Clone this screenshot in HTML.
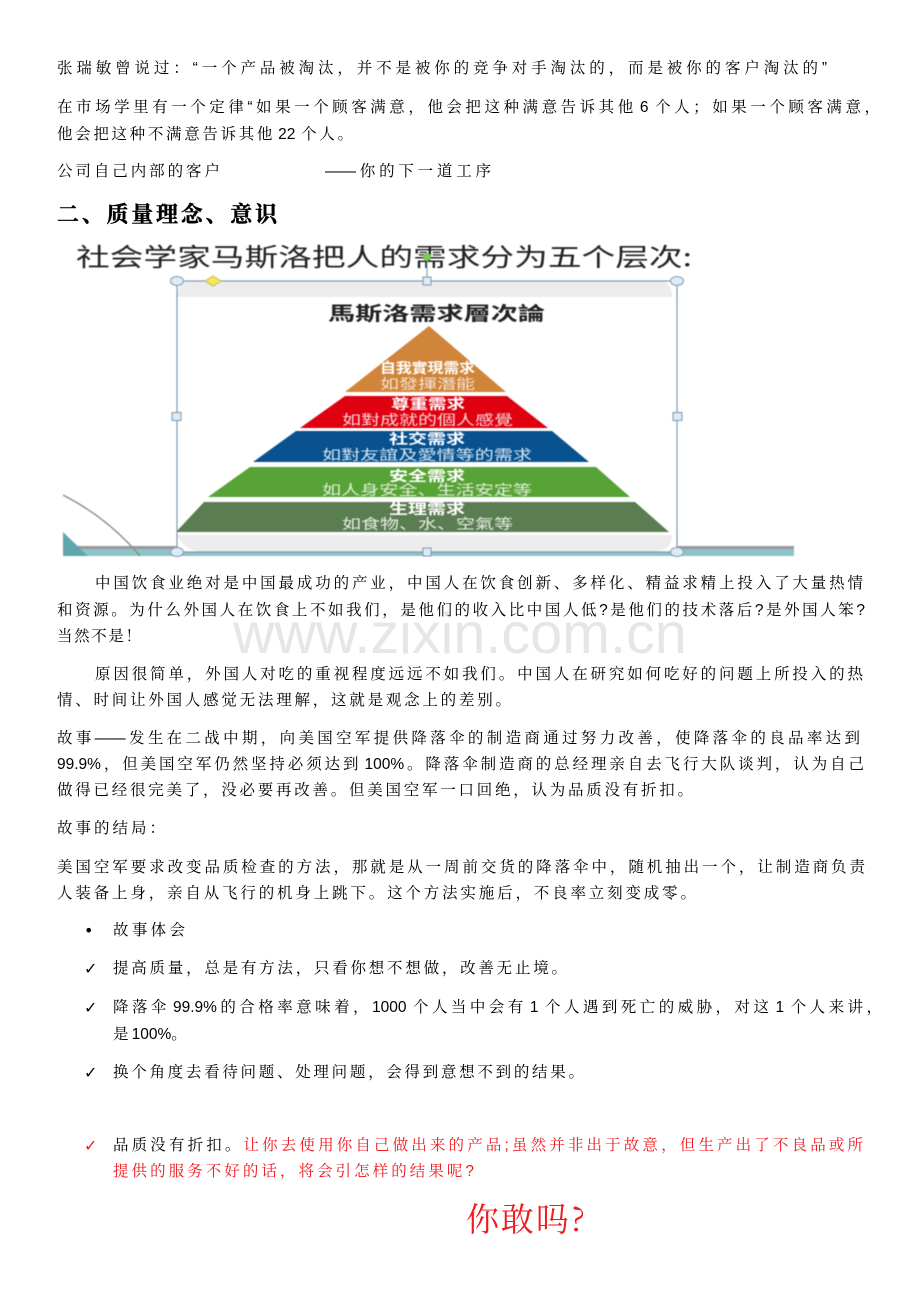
<!DOCTYPE html>
<html lang="zh"><head><meta charset="utf-8"><title>质量理念</title>
<style>
html,body{margin:0;padding:0;background:#fff}
#p{position:relative;width:920px;height:1302px;overflow:hidden;background:#fff;font-family:"Liberation Sans","Noto Serif CJK SC",serif;color:#000}
.l{position:absolute;height:20px;line-height:20px;font-size:15.5px;text-align:justify;text-align-last:justify;white-space:nowrap}
.m{position:absolute;line-height:20px;font-size:16px;font-family:"DejaVu Sans",sans-serif}
.r{color:#f01a1f}
svg{position:absolute;left:0;top:0}
</style></head><body><div id="p">
<div class="l" style="left:57px;top:59px;width:770px">张瑞敏曾说过&#xFF1A;“一个产品被淘汰&#xFF0C;并不是被你的竞争对手淘汰的&#xFF0C;而是被你的客户淘汰的”</div>
<div class="l" style="left:57px;top:98px;width:823px">在市场学里有一个定律“如果一个顾客满意&#xFF0C;他会把这种满意告诉其他&#8201;6&#8201;个人&#xFF1B;如果一个顾客满意&#xFF0C;</div>
<div class="l" style="left:57px;top:125px;width:296px">他会把这种不满意告诉其他&#8201;22&#8201;个人。</div>
<div class="l" style="left:57px;top:162px;width:163px">公司自己内部的客户</div>
<div class="l" style="left:325px;top:162px;width:166px">——你的下一道工序</div>
<div class="l" style="left:57px;top:203px;width:220px;height:24px;line-height:24px;font-size:22px;font-weight:700;-webkit-text-stroke:.4px #000">二、质量理念、意识</div>

<svg width="920" height="1302" viewBox="0 0 920 1302" xmlns="http://www.w3.org/2000/svg" style="filter:blur(.5px)">
<rect x="63" y="546" width="731" height="10" fill="#8cc4c8"/>
<rect x="63" y="546" width="731" height="3" fill="#9a9a9e"/>
<path d="M63 532L88 556H63Z" fill="#62a6ad"/>
<path d="M63 495Q108 518 140 556" fill="none" stroke="#8f8f8f" stroke-width="1.5"/>
<rect x="177" y="281" width="500" height="271" fill="#fff"/>
<path d="M177 297V296Q177 281 195 281H660Q672 281 672 297Z" fill="#ececec"/>
<path d="M177 535H672Q672 552 650 552H205Q185 552 177 535Z" fill="#ececec"/>
<polygon points="429,326 506,392 345,392" fill="#d0853a"/>
<polygon points="345,396 507,396 548,428 300,428" fill="#df0010"/>
<polygon points="296,431 552,431 589,462 253,462" fill="#08528f"/>
<polygon points="250,467 596,467 630,497 208,497" fill="#58a336"/>
<polygon points="204,502 635,502 669,532 176,532" fill="#5b7d52"/>
<g font-family="'Noto Sans CJK SC','Liberation Sans',sans-serif">
<text x="76" y="266" font-size="25" textLength="616" lengthAdjust="spacingAndGlyphs" fill="#222">社会学家马斯洛把人的需求分为五个层次:</text>
<text x="328" y="320" font-size="19" font-weight="700" textLength="217" lengthAdjust="spacingAndGlyphs" fill="#222">馬斯洛需求層次論</text>
<g fill="#fff" font-size="14">
<text x="380" y="373" font-weight="700" textLength="95" lengthAdjust="spacingAndGlyphs">自我實現需求</text>
<text x="380" y="389" textLength="95" lengthAdjust="spacingAndGlyphs" fill="#f4e3d0">如發揮潛能</text>
<text x="391" y="409" font-weight="700" textLength="74" lengthAdjust="spacingAndGlyphs">尊重需求</text>
<text x="342" y="425" textLength="171" lengthAdjust="spacingAndGlyphs" fill="#f8d8d8">如對成就的個人感覺</text>
<text x="389" y="444" font-weight="700" textLength="76" lengthAdjust="spacingAndGlyphs">社交需求</text>
<text x="322" y="460" textLength="210" lengthAdjust="spacingAndGlyphs" fill="#d8e6f2">如對友誼及愛情等的需求</text>
<text x="389" y="481" font-weight="700" textLength="76" lengthAdjust="spacingAndGlyphs">安全需求</text>
<text x="322" y="495" textLength="210" lengthAdjust="spacingAndGlyphs" fill="#e0f0d8">如人身安全、生活安定等</text>
<text x="389" y="514" font-weight="700" textLength="76" lengthAdjust="spacingAndGlyphs">生理需求</text>
<text x="342" y="529" textLength="171" lengthAdjust="spacingAndGlyphs" fill="#e6efe3">如食物、水、空氣等</text>
</g></g>
<rect x="177" y="281" width="500" height="271" fill="none" stroke="#7f98b2" stroke-width="1.2"/>
<line x1="427" y1="257" x2="427" y2="281" stroke="#7f98b2"/>
<circle cx="427" cy="257" r="4" fill="#7ccb4e"/>
<g fill="#dcebf5" stroke="#7f98b2">
<ellipse cx="177" cy="281" rx="6.500" ry="4.500"/><ellipse cx="677" cy="281" rx="6.500" ry="4.500"/>
<ellipse cx="177" cy="552" rx="6.500" ry="4.500"/><ellipse cx="677" cy="552" rx="6.500" ry="4.500"/>
<rect x="423" y="277" width="8" height="8"/><rect x="423" y="548" width="8" height="8"/>
<rect x="172" y="412.500" width="9" height="8"/><rect x="673" y="412.500" width="9" height="8"/>
</g>
<polygon points="213,276 221,281 213,286 205,281" fill="#f5e860" stroke="#c9b84a"/>
</svg>

<div style="position:absolute;left:233px;top:600px;font:57.500px/68px 'Liberation Sans',sans-serif;color:#e6e6e6;white-space:nowrap">www.zixin.com.cn</div>

<div class="l" style="left:95px;top:574px;width:768px">中国饮食业绝对是中国最成功的产业&#xFF0C;中国人在饮食创新、多样化、精益求精上投入了大量热情</div>
<div class="l" style="left:57px;top:601px;width:808px">和资源。为什么外国人在饮食上不如我们&#xFF0C;是他们的收入比中国人低?是他们的技术落后?是外国人笨?</div>
<div class="l" style="left:57px;top:627px;width:84px">当然不是&#xFF01;</div>
<div class="l" style="left:95px;top:665px;width:768px">原因很简单&#xFF0C;外国人对吃的重视程度远远不如我们。中国人在研究如何吃好的问题上所投入的热</div>
<div class="l" style="left:57px;top:691px;width:454px">情、时间让外国人感觉无法理解&#xFF0C;这就是观念上的差别。</div>
<div class="l" style="left:57px;top:729px;width:803px">故事——发生在二战中期&#xFF0C;向美国空军提供降落伞的制造商通过努力改善&#xFF0C;使降落伞的良品率达到</div>
<div class="l" style="left:57px;top:755px;width:807px">99.9%&#xFF0C;但美国空军仍然坚持必须达到&#8201;100%。降落伞制造商的总经理亲自去飞行大队谈判&#xFF0C;认为自己</div>
<div class="l" style="left:57px;top:781px;width:636px">做得已经很完美了&#xFF0C;没必要再改善。但美国空军一口回绝&#xFF0C;认为品质没有折扣。</div>
<div class="l" style="left:57px;top:819px;width:108px">故事的结局&#xFF1A;</div>
<div class="l" style="left:57px;top:858px;width:808px">美国空军要求改变品质检查的方法&#xFF0C;那就是从一周前交货的降落伞中&#xFF0C;随机抽出一个&#xFF0C;让制造商负责</div>
<div class="l" style="left:57px;top:884px;width:639px">人装备上身&#xFF0C;亲自从飞行的机身上跳下。这个方法实施后&#xFF0C;不良率立刻变成零。</div>

<div class="m" style="left:84px;top:921px">•</div>
<div class="l" style="left:113px;top:921px;width:72px">故事体会</div>
<div class="m" style="left:84px;top:959px">✓</div>
<div class="l" style="left:113px;top:959px;width:454px">提高质量&#xFF0C;总是有方法&#xFF0C;只看你想不想做&#xFF0C;改善无止境。</div>
<div class="m" style="left:84px;top:998px">✓</div>
<div class="l" style="left:113px;top:998px;width:769px">降落伞&#8201;99.9%的合格率意味着&#xFF0C;1000&#8201;个人当中会有&#8201;1&#8201;个人遇到死亡的威胁&#xFF0C;对这&#8201;1&#8201;个人来讲&#xFF0C;</div>
<div class="l" style="left:113px;top:1025px;width:59px">是&#8201;100%。</div>
<div class="m" style="left:84px;top:1063px">✓</div>
<div class="l" style="left:113px;top:1063px;width:471px">换个角度去看待问题、处理问题&#xFF0C;会得到意想不到的结果。</div>
<div class="m r" style="left:84px;top:1136px">✓</div>
<div class="l" style="left:113px;top:1136px;width:750px">品质没有折扣。<span class="r">让你去使用你自己做出来的产品;虽然并非出于故意&#xFF0C;但生产出了不良品或所</span></div>
<div class="l r" style="left:113px;top:1162px;width:361px">提供的服务不好的话&#xFF0C;将会引怎样的结果呢?</div>
<div class="l r" style="left:466px;top:1198px;width:119px;height:40px;line-height:40px;font-size:33px;font-family:'Noto Serif CJK SC',serif">你敢吗?</div>
</div></body></html>
